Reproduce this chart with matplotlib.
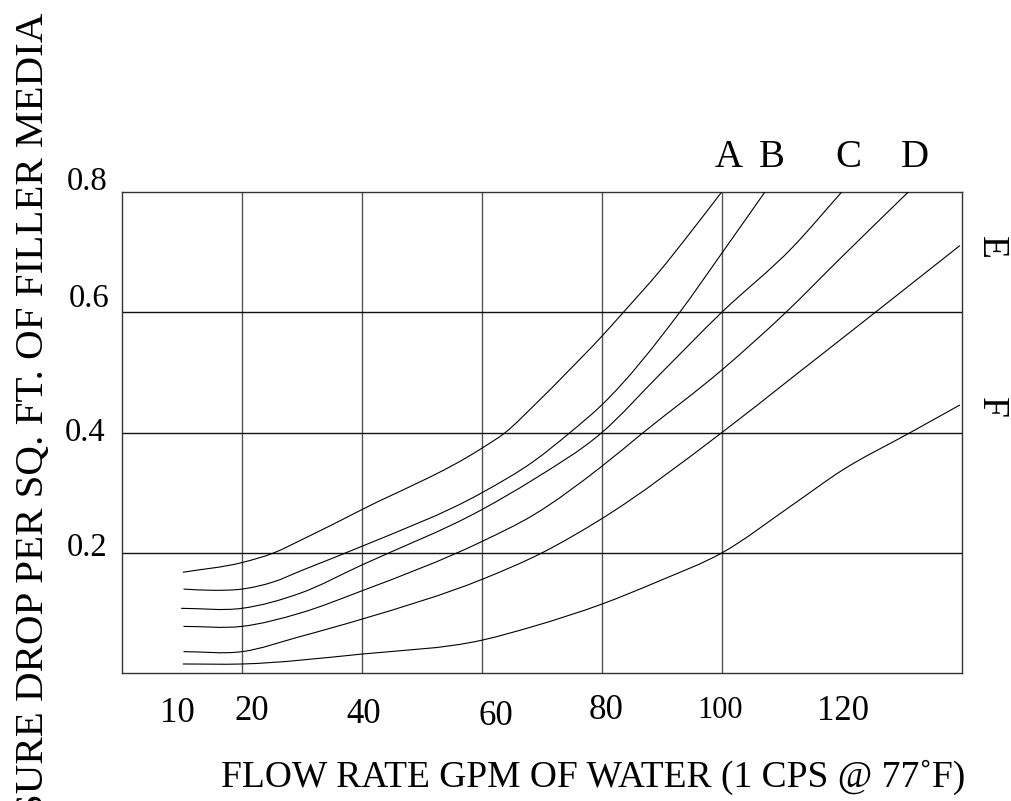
import matplotlib
matplotlib.use("Agg")
import matplotlib.pyplot as plt
from matplotlib.path import Path
from matplotlib.patches import PathPatch

# ---- data ----
curve_names = ["A", "B", "C", "D", "E", "F"]
A_x = [10.2, 20, 25.3, 30, 40, 60, 63.9, 68.6, 74.2, 80, 83.6, 89.7, 95.2, 100]
A_y = [0.168, 0.184, 0.2, 0.222, 0.272, 0.374, 0.4, 0.444, 0.500, 0.560, 0.6, 0.669, 0.738, 0.8]
B_x = [10.3, 15, 20, 25.3, 30, 40, 60, 68.6, 74.7, 80, 93, 100, 107.2]
B_y = [0.140, 0.138, 0.140, 0.152, 0.171, 0.211, 0.300, 0.352, 0.4, 0.446, 0.6, 0.698, 0.8]
C_x = [9.9, 20, 29.7, 40, 60, 68.6, 80, 89.7, 100, 111.8, 120]
C_y = [0.108, 0.108, 0.133, 0.180, 0.272, 0.322, 0.4, 0.497, 0.6, 0.708, 0.8]
D_x = [10.3, 20, 29.7, 40, 60, 68.6, 80, 86.9, 100, 110.7, 120, 131.1]
D_y = [0.078, 0.078, 0.100, 0.137, 0.219, 0.263, 0.344, 0.4, 0.504, 0.6, 0.692, 0.8]
E_x = [10.3, 20, 29.7, 40, 60, 70, 80, 100, 111.8, 125.6, 139.7]
E_y = [0.036, 0.036, 0.061, 0.090, 0.156, 0.2, 0.257, 0.4, 0.492, 0.6, 0.711]
F_x = [10.2, 20, 40, 60, 68.6, 80, 89.7, 100, 111.8, 120, 131.4, 139.7]
F_y = [0.0155, 0.0155, 0.032, 0.055, 0.078, 0.115, 0.154, 0.2, 0.280, 0.337, 0.4, 0.446]

x_ticks = [10, 20, 40, 60, 80, 100, 120]
x_tick_labels = ["10", "20", "40", "60", "80", "100", "120"]
y_ticks = [0.2, 0.4, 0.6, 0.8]
y_tick_labels = ["0.2", "0.4", "0.6", "0.8"]
x_grid = [20, 40, 60, 80, 100]
y_grid = [0.2, 0.4, 0.6]

x_label = "FLOW RATE GPM OF WATER (1 CPS @ 77\u02daF)"
y_label = "PRESSURE DROP PER SQ. FT. OF FILLER MEDIA"

series = [(A_x, A_y), (B_x, B_y), (C_x, C_y), (D_x, D_y), (E_x, E_y), (F_x, F_y)]


def smooth_path(xs, ys):
    """Cubic Bezier path passing through the given points (drawing style only)."""
    n = len(xs)
    h = [xs[i + 1] - xs[i] for i in range(n - 1)]
    d = [(ys[i + 1] - ys[i]) / h[i] for i in range(n - 1)]
    m = [d[0]]
    for i in range(1, n - 1):
        m.append((d[i - 1] * h[i] + d[i] * h[i - 1]) / (h[i - 1] + h[i]))
    m.append(d[-1])
    verts = [(xs[0], ys[0])]
    codes = [Path.MOVETO]
    for i in range(n - 1):
        t = h[i] / 3.0
        verts += [(xs[i] + t, ys[i] + m[i] * t),
                  (xs[i + 1] - t, ys[i + 1] - m[i + 1] * t),
                  (xs[i + 1], ys[i + 1])]
        codes += [Path.CURVE4] * 3
    return Path(verts, codes)


# ---- figure ----
plt.rcParams["font.family"] = ["Liberation Serif", "DejaVu Serif"]
fig = plt.figure(figsize=(10.12, 8.01), dpi=100)
ax = fig.add_axes([0.1203, 0.1594, 0.8300, 0.6009])
ax.set_xlim(0, 140)
ax.set_ylim(0, 0.8)
ax.set_xticks([])
ax.set_yticks([])
for s in ax.spines.values():
    s.set_linewidth(1.0)
    s.set_color("#333333")

for gx in x_grid:
    ax.axvline(gx, color="#555555", lw=1.0, zorder=1)
for gy in y_grid:
    ax.axhline(gy, color="#111111", lw=1.0, zorder=1)

for (xs, ys) in series:
    ax.add_patch(PathPatch(smooth_path(xs, ys), facecolor="none",
                           edgecolor="black", lw=0.8, zorder=3))

# curve labels
for name, (xs, ys) in zip(curve_names, series):
    if name in ("A", "B", "C", "D"):
        ax.annotate(name, xy=(xs[-1], ys[-1]), xytext=(7, 34),
                    textcoords="offset pixels", ha="center", va="center",
                    fontsize=28, annotation_clip=False)
    else:
        ax.annotate(name, xy=(xs[-1], ys[-1]), xytext=(31, -2),
                    textcoords="offset pixels", ha="center", va="center",
                    fontsize=27, rotation=-90, annotation_clip=False)

# x tick labels (hand-lettered placement)
x_off = [(-4, -40), (10, -38), (2, -41), (14, -43), (4, -37), (-2, -37), (1, -38)]
x_fs = [25, 25, 25, 25, 25, 22, 25]
xb = ax.get_xaxis_transform()
for v, lab, (dx, dy), fs in zip(x_ticks, x_tick_labels, x_off, x_fs):
    ax.annotate(lab, xy=(v, 0), xycoords=xb, xytext=(dx, dy),
                textcoords="offset pixels", ha="center", va="center",
                fontsize=fs, annotation_clip=False)

# y tick labels
y_off = [(-14, 5), (-16, 0), (-12, 14), (-14, 10)]
yb = ax.get_yaxis_transform()
for v, lab, (dx, dy) in zip(y_ticks, y_tick_labels, y_off):
    ax.annotate(lab, xy=(0, v), xycoords=yb, xytext=(dx, dy),
                textcoords="offset pixels", ha="right", va="center",
                fontsize=23.5, annotation_clip=False)

# axis titles
fig.text(593 / 1012, 1 - 777 / 801, x_label, ha="center", va="center",
         fontsize=27)
fig.text(43 / 1012, 1 - 13 / 801, y_label, rotation=90,
         rotation_mode="anchor", ha="right", va="baseline", fontsize=29.5)

fig.savefig("out.png", dpi=100)
